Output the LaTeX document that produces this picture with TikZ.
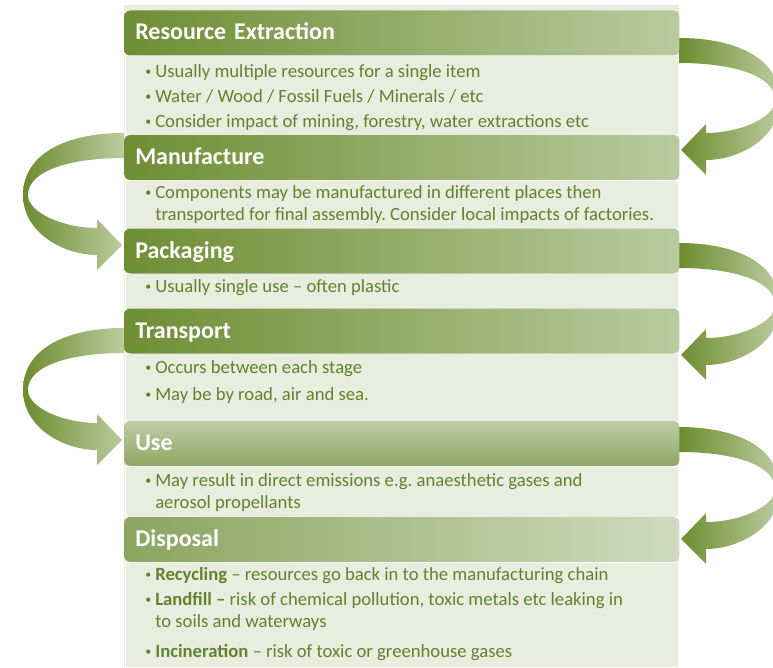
\documentclass[tikz,border=0pt]{standalone}
\usepackage{fontspec}
\setmainfont{Carlito}
\usepackage{xcolor}
\usepackage{tikz}

\definecolor{headdark}{RGB}{110,142,52}
\definecolor{headlight}{RGB}{186,202,160}
\definecolor{panelbg}{RGB}{232,237,223}
\definecolor{itemgreen}{RGB}{98,130,45}
\definecolor{arrowdark}{RGB}{108,140,46}
\definecolor{arrowlight}{RGB}{188,204,160}

\newcommand{\lcbullet}{\makebox[8.25pt][l]{\hspace{0.75pt}\raisebox{1.2pt}{\fontsize{9}{9}\selectfont\textbullet}}}
\newcommand{\lcitem}[1]{\parbox[t]{420pt}{\frenchspacing\raggedright\hangindent=8.25pt\hangafter=1 \lcbullet #1}}

\begin{document}
\begin{tikzpicture}[x=0.75pt,y=-0.75pt]
      \tikzstyle{stagehead} = [anchor=west, rounded corners=4.5pt, minimum width=416.25pt, minimum height=33.75pt, text width=399.75pt, inner xsep=8.25pt, inner ysep=0pt, align=left, text height=13.5pt, text depth=3pt, font=\fontsize{18}{21}\selectfont\bfseries, text=white, left color=headdark, right color=headlight]
      \tikzstyle{stageitem} = [anchor=base west, inner sep=0pt, font=\fontsize{14}{16.5}\selectfont, text=itemgreen]
      \tikzstyle{stagearrow} = [left color=arrowdark, right color=arrowlight]

      \useasboundingbox (0,0) rectangle (773,667);
      \clip (0,0) rectangle (773,667);

      % panel and body bands
      \fill[panelbg] (124,5) rectangle (679,667);
      \foreach \top/\bot in {56/135, 180/229, 273/309, 353/421, 466/517, 562/667}
        \draw[white, line width=0.75pt] (125,\top) rectangle (678,\bot);

      % curved arrows, right side
      \foreach \y in {38, 243, 427} {
        \begin{scope}[shift={(679,\y)}]
          \path[stagearrow] (0,0) .. controls (60,0) and (101,22) .. (101,62)
            .. controls (101,100) and (60,122) .. (27,122)
            -- (27,137) -- (2,112) -- (27,86) -- (27,95)
            .. controls (60,95) and (96,80) .. (96,62)
            .. controls (96,38) and (55,25) .. (0,25) -- cycle;
        \end{scope}
      }
      % curved arrows, left side
      \foreach \y in {133, 328} {
        \begin{scope}[shift={(124,\y)}, xscale=-1]
          \path[stagearrow] (0,0) .. controls (60,0) and (101,22) .. (101,62)
            .. controls (101,100) and (60,122) .. (27,122)
            -- (27,137) -- (2,112) -- (27,86) -- (27,95)
            .. controls (60,95) and (96,80) .. (96,62)
            .. controls (96,38) and (55,25) .. (0,25) -- cycle;
        \end{scope}
      }

      % stage headers
      \node[stagehead] (re) at (124,33) {Resource Extraction};
      \node[stagehead] (man) at (124,157.5) {Manufacture};
      \node[stagehead] (pack) at (124,251) {Packaging};
      \node[stagehead] (trans) at (124,331) {Transport};
      \node[stagehead, top color={rgb,255:red,190;green,205;blue,166}, bottom color={rgb,255:red,143;green,166;blue,100}] (use) at (124,443.5) {Use};
      \node[stagehead, left color={rgb,255:red,140;green,165;blue,96}, right color={rgb,255:red,208;green,218;blue,190}] (disp) at (124,539.5) {Disposal};

      % stage items
      \node[stageitem] (re1) at (144,77) {\lcitem{Usually multiple resources for a single item}};
      \node[stageitem] (re2) at (144,102) {\lcitem{Water / Wood / Fossil Fuels / Minerals / etc}};
      \node[stageitem] (re3) at (144,127) {\lcitem{Consider impact of mining, forestry, water extractions etc}};

      \node[stageitem] (man1) at (144,198) {\lcitem{Components may be manufactured in different places then\newline transported for final assembly. Consider local impacts of factories.}};

      \node[stageitem] (pack1) at (144,292) {\lcitem{Usually single use – often plastic}};

      \node[stageitem] (trans1) at (144,373) {\lcitem{Occurs between each stage}};
      \node[stageitem] (trans2) at (144,400) {\lcitem{May be by road, air and sea.}};

      \node[stageitem] (use1) at (144,486) {\lcitem{May result in direct emissions e.g. anaesthetic gases and\newline aerosol propellants}};

      \node[stageitem] (disp1) at (144,580) {\lcitem{\textbf{Recycling} – resources go back in to the manufacturing chain}};
      \node[stageitem] (disp2) at (144,605) {\lcitem{\textbf{Landfill –} risk of chemical pollution, toxic metals etc leaking in\newline to soils and waterways}};
      \node[stageitem] (disp3) at (144,657) {\lcitem{\textbf{Incineration} – risk of toxic or greenhouse gases}};
    \end{tikzpicture}
\end{document}
